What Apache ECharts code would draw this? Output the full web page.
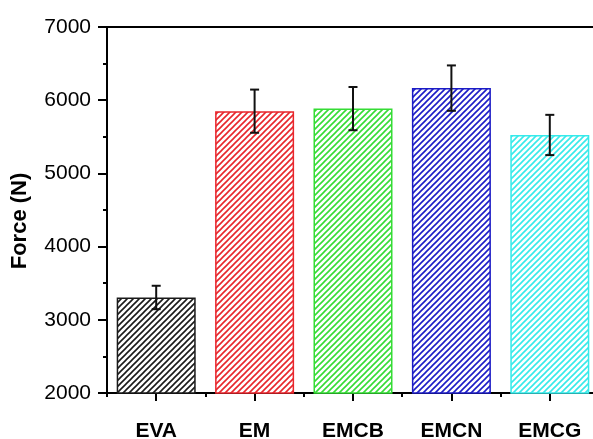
<!DOCTYPE html>
<html>
<head>
    <meta charset="UTF-8">
    <title>Force bar chart</title>
    <script src="https://cdn.jsdelivr.net/npm/echarts@6/dist/echarts.min.js"></script>
    <style>
        body { margin: 0; background: #fff; }
        #main { width: 593px; height: 439px; }
    </style>
</head>
<body>
    <div id="main"></div>
    <script>
        const categories = ['EVA', 'EM', 'EMCB', 'EMCN', 'EMCG']
        const forceValues = [3305, 5850, 5885, 6165, 5525]
        const errorValues = [160, 295, 295, 310, 275]
        const barColors = ['#1a1a1a', '#e8262c', '#35dc35', '#1c1cc6', '#36eaea']

        // diagonal hatch pattern, lines going up to the right
        function hatch (color) {
            const s = 6
            const c = document.createElement('canvas')
            c.width = s
            c.height = s
            const ctx = c.getContext('2d')
            ctx.fillStyle = '#fff'
            ctx.fillRect(0, 0, s, s)
            ctx.strokeStyle = color
            ctx.lineWidth = 1.6
            ctx.beginPath()
            ctx.moveTo(-1, s + 1); ctx.lineTo(s + 1, -1)
            ctx.moveTo(-2, 2); ctx.lineTo(2, -2)
            ctx.moveTo(s - 2, s + 2); ctx.lineTo(s + 2, s - 2)
            ctx.stroke()
            return { image: c, repeat: 'repeat' }
        }

        const font = 'Liberation Sans'
        const chart = echarts.init(document.getElementById('main'))

        const option = {
            animation: false,
            backgroundColor: '#fff',
            grid: {
                left: 107, top: 27, width: 492, height: 366,
                outerBoundsMode: 'none',
                show: true, borderColor: '#000', borderWidth: 2
            },
            graphic: [{
                type: 'text',
                x: 20, y: 221,
                rotation: Math.PI / 2,
                style: {
                    text: 'Force (N)',
                    font: 'bold 22px ' + font,
                    fill: '#000',
                    align: 'center',
                    verticalAlign: 'middle'
                }
            }],
            xAxis: [
                {
                    type: 'category',
                    data: categories,
                    axisLine: { lineStyle: { color: '#000', width: 2 } },
                    axisTick: { show: true, alignWithLabel: true, length: 8, lineStyle: { color: '#000', width: 2 } },
                    axisLabel: { margin: 28, fontSize: 21, fontWeight: 'bold', color: '#000', fontFamily: font }
                },
                {
                    // short ticks between categories
                    type: 'category',
                    data: categories,
                    position: 'bottom',
                    axisLine: { show: false },
                    axisTick: { show: true, length: 4, lineStyle: { color: '#000', width: 2 } },
                    axisLabel: { show: false }
                }
            ],
            yAxis: {
                type: 'value',
                min: 2000, max: 7000, interval: 1000,
                axisLine: { show: true, lineStyle: { color: '#000', width: 2 } },
                axisTick: { show: true, length: 9, lineStyle: { color: '#000', width: 2 } },
                minorTick: { show: true, splitNumber: 2, length: 4, lineStyle: { color: '#000', width: 2 } },
                splitLine: { show: false },
                axisLabel: { fontSize: 21, color: '#000', margin: 16, fontFamily: font, formatter: v => String(v) }
            },
            series: [
                {
                    type: 'bar',
                    barWidth: 79,
                    data: forceValues.map((v, i) => ({
                        value: v,
                        itemStyle: { color: hatch(barColors[i]), borderColor: barColors[i], borderWidth: 1.5 }
                    }))
                },
                {
                    type: 'custom',
                    data: forceValues.map((v, i) => [i, v - errorValues[i], v + errorValues[i]]),
                    renderItem: (params, api) => {
                        const lo = api.coord([api.value(0), api.value(1)])
                        const hi = api.coord([api.value(0), api.value(2)])
                        const x = lo[0]
                        const w = 4.5
                        const style = { stroke: '#111', lineWidth: 2 }
                        return {
                            type: 'group',
                            children: [
                                { type: 'line', shape: { x1: x, y1: lo[1], x2: x, y2: hi[1] }, style },
                                { type: 'line', shape: { x1: x - w, y1: lo[1], x2: x + w, y2: lo[1] }, style },
                                { type: 'line', shape: { x1: x - w, y1: hi[1], x2: x + w, y2: hi[1] }, style }
                            ]
                        }
                    },
                    z: 5
                }
            ]
        }

        chart.setOption(option)
    </script>
</body>
</html>
